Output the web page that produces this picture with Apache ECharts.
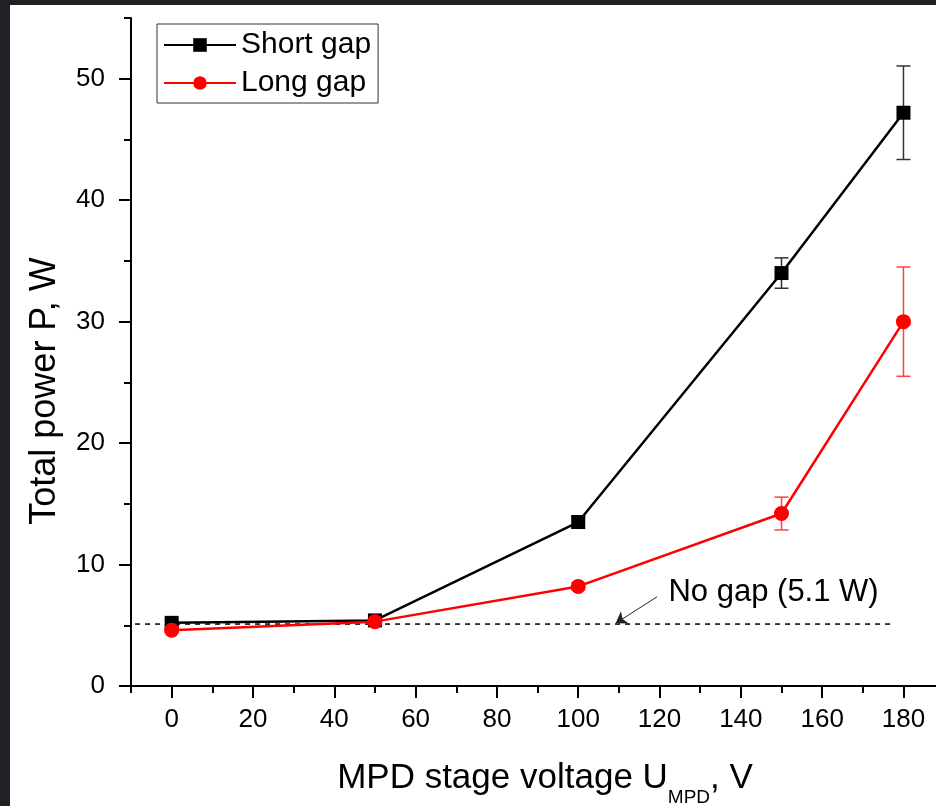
<!DOCTYPE html>
<html>
<head>
<meta charset="utf-8">
<script src="https://cdn.jsdelivr.net/npm/echarts@6/dist/echarts.min.js"></script>
<style>
  html, body { margin: 0; padding: 0; background: #202124; }
  #chart { position: absolute; left: 10px; top: 5px; width: 926px; height: 801px; background: #fff; }
</style>
</head>
<body>
<div id="chart"></div>
<script>
// MPD stage voltage, V
const xValues = [0, 50, 100, 150, 180];

// total power, W
const shortGap = [5.2, 5.4, 13.5, 34.0, 47.2];
const shortErr = [0.2, 0.2, 0.5, 1.25, 3.85];
const longGap = [4.6, 5.3, 8.2, 14.2, 30.0];
const longErr = [0.2, 0.2, 0.3, 1.35, 4.5];

// reference level without gap
const noGapLevel = 5.1;
const noGapRange = [-9, 177];
const noGapText = 'No gap (5.1 W)';
const noGapTextAt = [122.2, 7.7];
const arrowFrom = [119.4, 7.35];
const arrowTo = [109.2, 5.16];

// ticks
const xMajorTicks = [0, 20, 40, 60, 80, 100, 120, 140, 160, 180];
const xMinorTicks = [-10, 10, 30, 50, 70, 90, 110, 130, 150, 170];
const yMajorTicks = [0, 10, 20, 30, 40, 50];
const yMinorTicks = [5, 15, 25, 35, 45, 55];

const FONT = '"Liberation Sans", Arial, sans-serif';

const chart = echarts.init(document.getElementById('chart'));

// vertical error bar with caps
function errorBars(color) {
  return function (params, api) {
    const x = api.value(0);
    const y = api.value(1);
    const e = api.value(2);
    const top = api.coord([x, y + e]);
    const bot = api.coord([x, y - e]);
    const half = 7;
    const style = { stroke: color, lineWidth: 1.5 };
    return {
      type: 'group',
      children: [
        { type: 'line', shape: { x1: top[0], y1: top[1], x2: bot[0], y2: bot[1] }, style },
        { type: 'line', shape: { x1: top[0] - half, y1: top[1], x2: top[0] + half, y2: top[1] }, style },
        { type: 'line', shape: { x1: bot[0] - half, y1: bot[1], x2: bot[0] + half, y2: bot[1] }, style },
      ],
    };
  };
}

const axisLineStyle = { color: '#000', width: 2 };
const tickStyle = { color: '#000', width: 2 };

const option = {
  animation: false,
  backgroundColor: '#fff',
  grid: { left: 121, top: 13, right: 0, bottom: 120 },
  legend: {
    data: ['Short gap', 'Long gap'],
    orient: 'vertical',
    left: 147,
    top: 19,
    padding: [6, 7, 5, 6],
    itemGap: 8,
    itemWidth: 72,
    itemHeight: 17,
    borderColor: '#333',
    borderWidth: 1,
    textStyle: { fontSize: 30, fontFamily: FONT, color: '#000' },
  },
  xAxis: [
    {
      type: 'value',
      min: -10,
      max: 188,
      axisLine: { onZero: false, lineStyle: axisLineStyle },
      axisTick: { inside: false, length: 12, customValues: xMajorTicks, lineStyle: tickStyle },
      axisLabel: { customValues: xMajorTicks, margin: 21, fontSize: 26, fontFamily: FONT, color: '#000' },
      splitLine: { show: false },
    },
    {
      type: 'value',
      position: 'bottom',
      offset: 0,
      min: -10,
      max: 188,
      axisLine: { show: false, onZero: false },
      axisTick: { inside: false, length: 7, customValues: xMinorTicks, lineStyle: tickStyle },
      axisLabel: { show: false },
      splitLine: { show: false },
    },
  ],
  yAxis: [
    {
      type: 'value',
      min: 0,
      max: 55,
      axisLine: { onZero: false, lineStyle: axisLineStyle },
      axisTick: { inside: false, length: 12, customValues: yMajorTicks, lineStyle: tickStyle },
      axisLabel: { customValues: yMajorTicks, margin: 26, fontSize: 26, fontFamily: FONT, color: '#000' },
      splitLine: { show: false },
    },
    {
      type: 'value',
      position: 'left',
      offset: 0,
      min: 0,
      max: 55,
      axisLine: { show: false, onZero: false },
      axisTick: { inside: false, length: 7, customValues: yMinorTicks, lineStyle: tickStyle },
      axisLabel: { show: false },
      splitLine: { show: false },
    },
  ],
  graphic: [
    {
      type: 'text',
      x: 35,
      y: 386,
      rotation: Math.PI / 2,
      style: {
        text: 'Total power P, W',
        x: 0,
        y: 0,
        align: 'center',
        verticalAlign: 'middle',
        fontSize: 36,
        fontFamily: FONT,
        fill: '#000',
      },
    },
    {
      type: 'text',
      x: 535,
      y: 774,
      style: {
        text: '{a|MPD stage voltage U}{b|MPD}{a|, V}',
        x: 0,
        y: 0,
        align: 'center',
        verticalAlign: 'middle',
        fill: '#000',
        rich: {
          a: { fontSize: 35, fontFamily: FONT, lineHeight: 36, verticalAlign: 'top', fill: '#000' },
          b: { fontSize: 19, fontFamily: FONT, lineHeight: 18, verticalAlign: 'top', padding: [27, 0, 0, 0], fill: '#000' },
        },
      },
    },
  ],
  series: [
    {
      name: 'shortErr',
      type: 'custom',
      renderItem: errorBars('#333'),
      data: xValues.map((x, i) => [x, shortGap[i], shortErr[i]]),
      z: 1,
    },
    {
      name: 'longErr',
      type: 'custom',
      renderItem: errorBars('#ff4040'),
      data: xValues.map((x, i) => [x, longGap[i], longErr[i]]),
      z: 1,
    },
    {
      name: 'No gap',
      type: 'line',
      data: noGapRange.map((x) => [x, noGapLevel]),
      symbol: 'none',
      lineStyle: { color: '#000', width: 1.5, type: [5, 5] },
      z: 2,
      markLine: {
        silent: true,
        symbol: ['none', 'arrow'],
        symbolSize: 11,
        label: { show: false },
        lineStyle: { color: '#222', width: 1, type: 'solid' },
        data: [[{ coord: arrowFrom }, { coord: arrowTo }]],
      },
    },
    {
      name: 'Short gap',
      type: 'line',
      data: xValues.map((x, i) => [x, shortGap[i]]),
      symbol: 'rect',
      symbolSize: 14,
      lineStyle: { color: '#000', width: 2.5 },
      itemStyle: { color: '#000' },
      z: 3,
    },
    {
      name: 'Long gap',
      type: 'line',
      data: xValues.map((x, i) => [x, longGap[i]]),
      symbol: 'circle',
      symbolSize: 15,
      lineStyle: { color: '#ff0000', width: 2.5 },
      itemStyle: { color: '#ff0000' },
      z: 4,
    },
    {
      name: 'noGapLabel',
      type: 'custom',
      data: [noGapTextAt],
      renderItem: function (params, api) {
        const p = api.coord([api.value(0), api.value(1)]);
        return {
          type: 'text',
          x: p[0],
          y: p[1],
          style: {
            text: noGapText,
            align: 'left',
            verticalAlign: 'middle',
            fontSize: 31,
            fontFamily: FONT,
            fill: '#000',
          },
        };
      },
      z: 5,
    },
  ],
};

chart.setOption(option);
</script>
</body>
</html>
